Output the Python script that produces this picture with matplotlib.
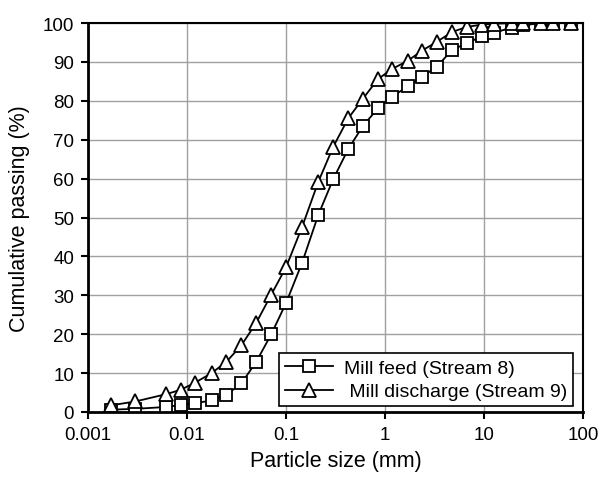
import matplotlib

matplotlib.use("Agg")
import matplotlib.pyplot as plt
from matplotlib.ticker import FixedLocator, FixedFormatter, NullLocator

plt.rcParams["font.family"] = ["Liberation Sans", "DejaVu Sans"]

size_mm = [0.0017, 0.003, 0.0062, 0.0086, 0.012, 0.0177, 0.025, 0.0355, 0.05, 0.071,
           0.1, 0.145, 0.212, 0.3, 0.425, 0.6, 0.85, 1.18, 1.7, 2.36,
           3.35, 4.75, 6.7, 9.5, 12.5, 19, 25, 37.5, 50, 75]
mill_feed = [0.6, 0.8, 1.3, 1.8, 2.2, 3.0, 4.4, 7.4, 12.9, 20.0,
             28.0, 38.3, 50.7, 59.9, 67.6, 73.6, 78.1, 81.1, 83.7, 86.2,
             88.8, 93.1, 94.8, 96.6, 97.5, 98.8, 99.4, 100, 100, 100]
mill_discharge = [1.7, 2.7, 4.6, 5.7, 7.5, 10.0, 12.9, 17.2, 22.9, 30.2,
                  37.2, 47.5, 59.2, 68.2, 75.5, 80.6, 85.6, 88.2, 90.3, 92.9,
                  95.2, 97.7, 99.0, 99.6, 99.8, 100, 100, 100, 100, 100]
x_ticks = [0.001, 0.01, 0.1, 1, 10, 100]
x_tick_labels = ["0.001", "0.01", "0.1", "1", "10", "100"]

fig = plt.figure(figsize=(6.0, 4.81), dpi=100)
ax = fig.add_axes([0.1467, 0.1414, 0.825, 0.8086])

marker_style = dict(color="black", linewidth=1.3, markerfacecolor="white",
                    markeredgecolor="black", markeredgewidth=1.3)
ax.plot(size_mm, mill_feed, marker="s", markersize=8.5, label="Mill feed (Stream 8)", **marker_style)
ax.plot(size_mm, mill_discharge, marker="^", markersize=9.5, label=" Mill discharge (Stream 9)", **marker_style)

ax.set_xscale("log")
ax.set_xlim(0.001, 100)
ax.set_ylim(0, 100)
ax.xaxis.set_major_locator(FixedLocator(x_ticks))
ax.xaxis.set_major_formatter(FixedFormatter(x_tick_labels))
ax.xaxis.set_minor_locator(NullLocator())
ax.set_yticks(range(0, 101, 10))
ax.grid(True, color="#a0a0a0", linewidth=1.0)
ax.set_axisbelow(True)

for side in ["left", "bottom"]:
    ax.spines[side].set_linewidth(2.0)
for side in ["top", "right"]:
    ax.spines[side].set_linewidth(1.5)
ax.tick_params(direction="out", length=5, width=1.5, labelsize=13.5, pad=5)

ax.set_xlabel("Particle size (mm)", fontsize=15.5, labelpad=5)
ax.set_ylabel("Cumulative passing (%)", fontsize=15.5, labelpad=9)

leg = ax.legend(loc="lower right", bbox_to_anchor=(0.98, 0.015), fontsize=14,
                frameon=True, fancybox=False, edgecolor="black", framealpha=1,
                handlelength=2.5, handletextpad=0.55, borderpad=0.3,
                labelspacing=0.3, borderaxespad=0.0)
leg.get_frame().set_linewidth(1.2)

fig.savefig("out.png", dpi=100)
